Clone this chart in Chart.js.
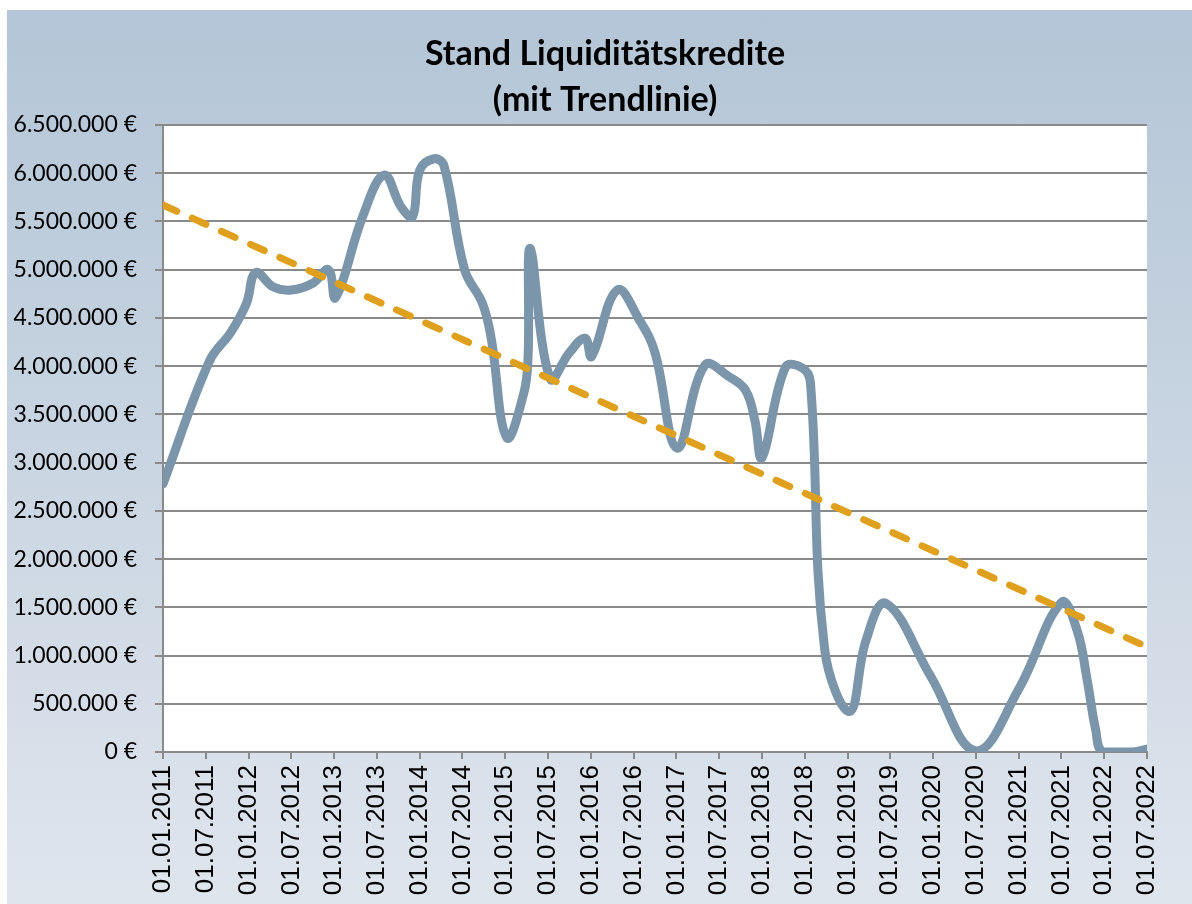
<!DOCTYPE html>
<html lang="de">
<head>
    <meta charset="UTF-8">
    <title>Stand Liquiditätskredite</title>
    <script src="https://cdn.jsdelivr.net/npm/chart.js"></script>
    <style>
        body {
            margin: 0;
            background-color: white;
        }
        .chart-box {
            position: absolute;
            left: 7px;
            top: 10px;
            width: 1185px;
            height: 894px;
            background: linear-gradient(#b3c5d6, #dfe5ed);
        }
    </style>
</head>
<body>
<div class="chart-box">
    <canvas id="kreditChart" width="1185" height="894"></canvas>
</div>

<script>
    // months after 01.01.2011 and balance at that point
    const monthOffsets = [0, 6.5, 9.5, 11.7, 13, 15.5, 18, 21, 23.2, 24.2,
        28, 31, 33.4, 35, 36, 38, 39.4, 42.3, 44.8, 46,
        48.2, 50.6, 51.2, 51.5, 54.3, 57, 59.2, 60.1, 63.7, 66.8,
        69, 72.1, 76, 79.4, 81.7, 83, 84, 87.3, 89.7, 90.8,
        92.8, 96.3, 98.6, 101.4, 107.7, 114, 120, 126, 128.2, 129.6,
        130.8, 131.8, 136, 138];
    const balances = [2780000, 4050000, 4350000, 4650000, 4970000, 4820000, 4790000, 4860000, 5000000, 4710000,
        5550000, 5980000, 5650000, 5550000, 6030000, 6150000, 6080000, 5000000, 4650000, 4300000,
        3260000, 3720000, 4100000, 5220000, 3870000, 4140000, 4290000, 4100000, 4790000, 4480000,
        4140000, 3150000, 4010000, 3890000, 3750000, 3440000, 3050000, 3990000, 3980000, 3830000,
        1060000, 420000, 1160000, 1540000, 780000, 10000, 650000, 1550000, 1260000, 750000,
        230000, 0, 0, 30000];

    // linear trend, start and end
    const trendMonths = [0, 138];
    const trendValues = [5670000, 1090000];

    const xTickLabels = ['01.01.2011', '01.07.2011', '01.01.2012', '01.07.2012', '01.01.2013', '01.07.2013',
        '01.01.2014', '01.07.2014', '01.01.2015', '01.07.2015', '01.01.2016', '01.07.2016',
        '01.01.2017', '01.07.2017', '01.01.2018', '01.07.2018', '01.01.2019', '01.07.2019',
        '01.01.2020', '01.07.2020', '01.01.2021', '01.07.2021', '01.01.2022', '01.07.2022'];

    const titleLines = ['Stand Liquiditätskredite', '(mit Trendlinie)'];

    function euro(v) {
        return String(v).replace(/\B(?=(\d{3})+(?!\d))/g, '.') + ' €';
    }

    // white plot area
    const plotBackground = {
        id: 'plotBackground',
        beforeDraw(chart) {
            const a = chart.chartArea;
            const ctx = chart.ctx;
            ctx.save();
            ctx.fillStyle = '#ffffff';
            ctx.fillRect(a.left, a.top, a.right - a.left, a.bottom - a.top);
            ctx.restore();
        }
    };

    // title sits centred over the whole box, not over the plot
    const titleShift = {
        id: 'titleShift',
        afterLayout(chart) {
            if (chart.titleBlock) {
                chart.titleBlock.left = 0;
                chart.titleBlock.right = 1196;
            }
        }
    };

    const gridGrey = '#8a8a8a';

    new Chart(document.getElementById('kreditChart'), {
        type: 'line',
        data: {
            datasets: [
                {
                    label: 'Stand Liquiditätskredite',
                    data: monthOffsets.map((m, i) => ({ x: m, y: balances[i] })),
                    borderColor: '#7b96ab',
                    borderWidth: 9,
                    borderCapStyle: 'round',
                    borderJoinStyle: 'round',
                    tension: 0.4,
                    pointRadius: 0,
                    fill: false,
                    order: 2
                },
                {
                    label: 'Trendlinie',
                    data: trendMonths.map((m, i) => ({ x: m, y: trendValues[i] })),
                    borderColor: '#dfa01e',
                    borderWidth: 7,
                    borderDash: [15, 17],
                    borderCapStyle: 'round',
                    pointRadius: 0,
                    fill: false,
                    order: 1
                }
            ]
        },
        options: {
            responsive: false,
            animation: false,
            devicePixelRatio: 1,
            layout: {
                padding: { left: 0, right: 45, top: 0, bottom: 0 }
            },
            plugins: {
                legend: { display: false },
                tooltip: { enabled: false },
                title: {
                    display: true,
                    text: titleLines,
                    color: '#000000',
                    font: { family: 'Lato', size: 34, weight: 'bold', lineHeight: 1.353 },
                    padding: { top: 21, bottom: 2 }
                }
            },
            scales: {
                x: {
                    type: 'linear',
                    min: 0,
                    max: 138,
                    afterFit: (scale) => { scale.height = 152; },
                    ticks: {
                        stepSize: 6,
                        autoSkip: false,
                        maxRotation: 90,
                        minRotation: 90,
                        padding: 6,
                        color: '#000000',
                        font: { family: 'Liberation Sans', size: 26 },
                        callback: (v) => xTickLabels[Math.round(v / 6)]
                    },
                    grid: {
                        drawOnChartArea: false,
                        drawTicks: true,
                        tickLength: 7,
                        color: gridGrey,
                        lineWidth: 2
                    },
                    border: { display: true, color: gridGrey, width: 2 }
                },
                y: {
                    min: 0,
                    max: 6500000,
                    afterFit: (scale) => { scale.width = 156; },
                    ticks: {
                        stepSize: 500000,
                        padding: 18,
                        color: '#000000',
                        font: { family: 'Lato', size: 23 },
                        callback: (v) => euro(v)
                    },
                    grid: {
                        color: gridGrey,
                        lineWidth: 2,
                        tickLength: 8
                    },
                    border: { display: true, color: gridGrey, width: 2 }
                }
            }
        },
        plugins: [plotBackground, titleShift]
    });
</script>
</body>
</html>
